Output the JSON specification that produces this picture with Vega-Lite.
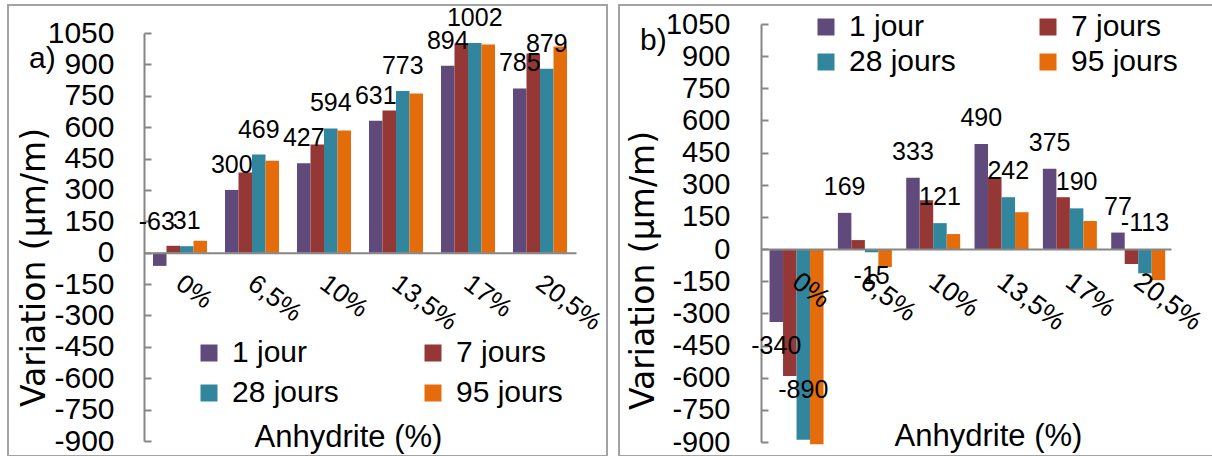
{
  "$schema": "https://vega.github.io/schema/vega-lite/v6.json",
  "padding": {"left": 7, "top": 4, "right": 0, "bottom": 0},
  "spacing": 10,
  "config": {
    "font": "Liberation Sans",
    "view": {"stroke": "#a3a3a3", "strokeWidth": 2},
    "axis": {"labelColor": "#000000", "titleColor": "#000000", "titleFontWeight": "normal", "domainColor": "#868686", "tickColor": "#868686", "domainWidth": 2, "tickWidth": 2, "grid": false, "labelFont": "Liberation Sans", "titleFont": "Liberation Sans"},
    "legend": {"labelFont": "Liberation Sans", "labelColor": "#000000"},
    "title": {"font": "Liberation Sans", "color": "#000000", "fontWeight": "normal"}
  },
  "datasets": {
    "a": [
      {"cat": "0%", "s": "1 jour", "v": -63}, {"cat": "0%", "s": "7 jours", "v": 33}, {"cat": "0%", "s": "28 jours", "v": 31}, {"cat": "0%", "s": "95 jours", "v": 57},
      {"cat": "6,5%", "s": "1 jour", "v": 300}, {"cat": "6,5%", "s": "7 jours", "v": 383}, {"cat": "6,5%", "s": "28 jours", "v": 469}, {"cat": "6,5%", "s": "95 jours", "v": 440},
      {"cat": "10%", "s": "1 jour", "v": 427}, {"cat": "10%", "s": "7 jours", "v": 517}, {"cat": "10%", "s": "28 jours", "v": 594}, {"cat": "10%", "s": "95 jours", "v": 584},
      {"cat": "13,5%", "s": "1 jour", "v": 631}, {"cat": "13,5%", "s": "7 jours", "v": 680}, {"cat": "13,5%", "s": "28 jours", "v": 773}, {"cat": "13,5%", "s": "95 jours", "v": 761},
      {"cat": "17%", "s": "1 jour", "v": 894}, {"cat": "17%", "s": "7 jours", "v": 1000}, {"cat": "17%", "s": "28 jours", "v": 1002}, {"cat": "17%", "s": "95 jours", "v": 995},
      {"cat": "20,5%", "s": "1 jour", "v": 785}, {"cat": "20,5%", "s": "7 jours", "v": 952}, {"cat": "20,5%", "s": "28 jours", "v": 879}, {"cat": "20,5%", "s": "95 jours", "v": 985}
    ],
    "b": [
      {"cat": "0%", "s": "1 jour", "v": -340}, {"cat": "0%", "s": "7 jours", "v": -592}, {"cat": "0%", "s": "28 jours", "v": -890}, {"cat": "0%", "s": "95 jours", "v": -910},
      {"cat": "6,5%", "s": "1 jour", "v": 169}, {"cat": "6,5%", "s": "7 jours", "v": 42}, {"cat": "6,5%", "s": "28 jours", "v": -15}, {"cat": "6,5%", "s": "95 jours", "v": -84},
      {"cat": "10%", "s": "1 jour", "v": 333}, {"cat": "10%", "s": "7 jours", "v": 228}, {"cat": "10%", "s": "28 jours", "v": 121}, {"cat": "10%", "s": "95 jours", "v": 70},
      {"cat": "13,5%", "s": "1 jour", "v": 490}, {"cat": "13,5%", "s": "7 jours", "v": 336}, {"cat": "13,5%", "s": "28 jours", "v": 242}, {"cat": "13,5%", "s": "95 jours", "v": 172},
      {"cat": "17%", "s": "1 jour", "v": 375}, {"cat": "17%", "s": "7 jours", "v": 242}, {"cat": "17%", "s": "28 jours", "v": 190}, {"cat": "17%", "s": "95 jours", "v": 131},
      {"cat": "20,5%", "s": "1 jour", "v": 77}, {"cat": "20,5%", "s": "7 jours", "v": -70}, {"cat": "20,5%", "s": "28 jours", "v": -113}, {"cat": "20,5%", "s": "95 jours", "v": -145}
    ]
  },
  "resolve": {"scale": {"x": "independent", "y": "independent", "color": "independent"}, "legend": {"color": "independent"}},
  "hconcat": [
    {
      "width": 599,
      "height": 451,
      "title": {"text": "a)", "anchor": "start", "frame": "group", "fontSize": 30, "baseline": "middle", "offset": -84, "dx": 21},
      "data": {"name": "a"},
      "encoding": {
        "x": {
          "field": "cat", "type": "nominal", "sort": ["0%", "6,5%", "10%", "13,5%", "17%", "20,5%"],
          "scale": {"range": [136, 568], "paddingInner": 0.25, "paddingOuter": 0.125},
          "axis": {"orient": "bottom", "offset": -203.3, "zindex": 1, "ticks": false, "labelAngle": 37, "labelAlign": "left", "labelBaseline": "top", "labelPadding": 17, "labelOffset": 7, "labelFontSize": 26, "labelOverlap": false, "labelBound": false, "labelFlush": false, "title": "Anhydrite (%)", "titleFontSize": 31, "titleX": 340, "titleY": 185, "titleAlign": "center", "titleBaseline": "middle"}
        },
        "xOffset": {"field": "s", "type": "nominal", "sort": ["1 jour", "7 jours", "28 jours", "95 jours"], "scale": {"domain": ["1 jour", "7 jours", "28 jours", "95 jours"]}},
        "y": {
          "field": "v", "type": "quantitative",
          "scale": {"domain": [-900, 1050], "range": [436, 28], "nice": false, "zero": false},
          "axis": {"offset": -136, "values": [-900, -750, -600, -450, -300, -150, 0, 150, 300, 450, 600, 750, 900, 1050], "tickSize": -7, "labelPadding": 37, "labelFontSize": 30, "labelExpr": "'' + datum.value", "title": "Variation  (µm/m)", "titleFont": "DejaVu Sans", "titleFontSize": 33, "titleX": -110, "titleY": 262, "titleAngle": -90, "titleAlign": "center", "titleBaseline": "middle"}
        }
      },
      "layer": [
        {
          "mark": {"type": "bar"},
          "encoding": {
            "y2": {"datum": 0},
            "color": {"field": "s", "type": "nominal", "scale": {"domain": ["1 jour", "28 jours", "7 jours", "95 jours"], "range": ["#604A7B", "#31859C", "#953735", "#E46C0A"]},
              "legend": {"title": null, "orient": "none", "legendX": 186, "legendY": 333, "columns": 2, "symbolType": "square", "symbolSize": 289, "symbolStrokeWidth": 0, "labelFontSize": 30, "labelOffset": 8, "columnPadding": 79, "rowPadding": 10, "padding": 0}}
          }
        },
        {
          "transform": [{"filter": "(datum.s == '1 jour' || datum.s == '28 jours') && datum.v >= 0"}],
          "mark": {"type": "text", "baseline": "middle", "dy": -25, "fontSize": 25, "color": "#000000"},
          "encoding": {"text": {"field": "v", "type": "nominal"}}
        },
        {
          "transform": [{"filter": "(datum.s == '1 jour' || datum.s == '28 jours') && datum.v < 0"}],
          "mark": {"type": "text", "baseline": "middle", "dy": -44, "dx": -3, "fontSize": 25, "color": "#000000"},
          "encoding": {"text": {"field": "v", "type": "nominal"}}
        }
      ]
    },
    {
      "width": 595,
      "height": 451,
      "title": {"text": "b)", "anchor": "start", "frame": "group", "fontSize": 30, "baseline": "middle", "offset": -66, "dx": 21},
      "data": {"name": "b"},
      "encoding": {
        "x": {
          "field": "cat", "type": "nominal", "sort": ["0%", "6,5%", "10%", "13,5%", "17%", "20,5%"],
          "scale": {"range": [142, 552], "paddingInner": 0.25, "paddingOuter": 0.125},
          "axis": {"orient": "bottom", "offset": -206.9, "zindex": 1, "ticks": false, "labelAngle": 37, "labelAlign": "left", "labelBaseline": "top", "labelPadding": 19, "labelOffset": 8, "labelFontSize": 27, "labelOverlap": false, "labelBound": false, "labelFlush": false, "title": "Anhydrite (%)", "titleFontSize": 31, "titleX": 369, "titleY": 187, "titleAlign": "center", "titleBaseline": "middle"}
        },
        "xOffset": {"field": "s", "type": "nominal", "sort": ["1 jour", "7 jours", "28 jours", "95 jours"], "scale": {"domain": ["1 jour", "7 jours", "28 jours", "95 jours"]}},
        "y": {
          "field": "v", "type": "quantitative",
          "scale": {"domain": [-900, 1050], "range": [437, 19], "nice": false, "zero": false},
          "axis": {"offset": -142, "values": [-900, -750, -600, -450, -300, -150, 0, 150, 300, 450, 600, 750, 900, 1050], "tickSize": -7, "labelPadding": 38, "labelFontSize": 29, "labelExpr": "'' + datum.value", "title": "Variation  (µm/m)", "titleFont": "DejaVu Sans", "titleFontSize": 33, "titleX": -118, "titleY": 265, "titleAngle": -90, "titleAlign": "center", "titleBaseline": "middle"}
        }
      },
      "layer": [
        {
          "mark": {"type": "bar"},
          "encoding": {
            "y2": {"datum": 0},
            "color": {"field": "s", "type": "nominal", "scale": {"domain": ["1 jour", "28 jours", "7 jours", "95 jours"], "range": ["#604A7B", "#31859C", "#953735", "#E46C0A"]},
              "legend": {"title": null, "orient": "none", "legendX": 192, "legendY": 7, "columns": 2, "symbolType": "square", "symbolSize": 289, "symbolStrokeWidth": 0, "labelFontSize": 30, "labelOffset": 8, "columnPadding": 77, "rowPadding": 5, "padding": 0}}
          }
        },
        {
          "transform": [{"filter": "(datum.s == '1 jour' || datum.s == '28 jours') && datum.v >= 0"}],
          "mark": {"type": "text", "baseline": "middle", "dy": -26, "fontSize": 25, "color": "#000000"},
          "encoding": {"text": {"field": "v", "type": "nominal"}}
        },
        {
          "transform": [{"filter": "datum.s == '1 jour' && datum.v < 0 || datum.s == '28 jours' && datum.v < 0 && datum.v > -100"}],
          "mark": {"type": "text", "baseline": "middle", "dy": 24, "fontSize": 25, "color": "#000000"},
          "encoding": {"text": {"field": "v", "type": "nominal"}}
        },
        {
          "transform": [{"filter": "datum.s == '28 jours' && datum.v <= -100"}],
          "mark": {"type": "text", "baseline": "middle", "dy": -50, "fontSize": 25, "color": "#000000"},
          "encoding": {"text": {"field": "v", "type": "nominal"}}
        }
      ]
    }
  ]
}
